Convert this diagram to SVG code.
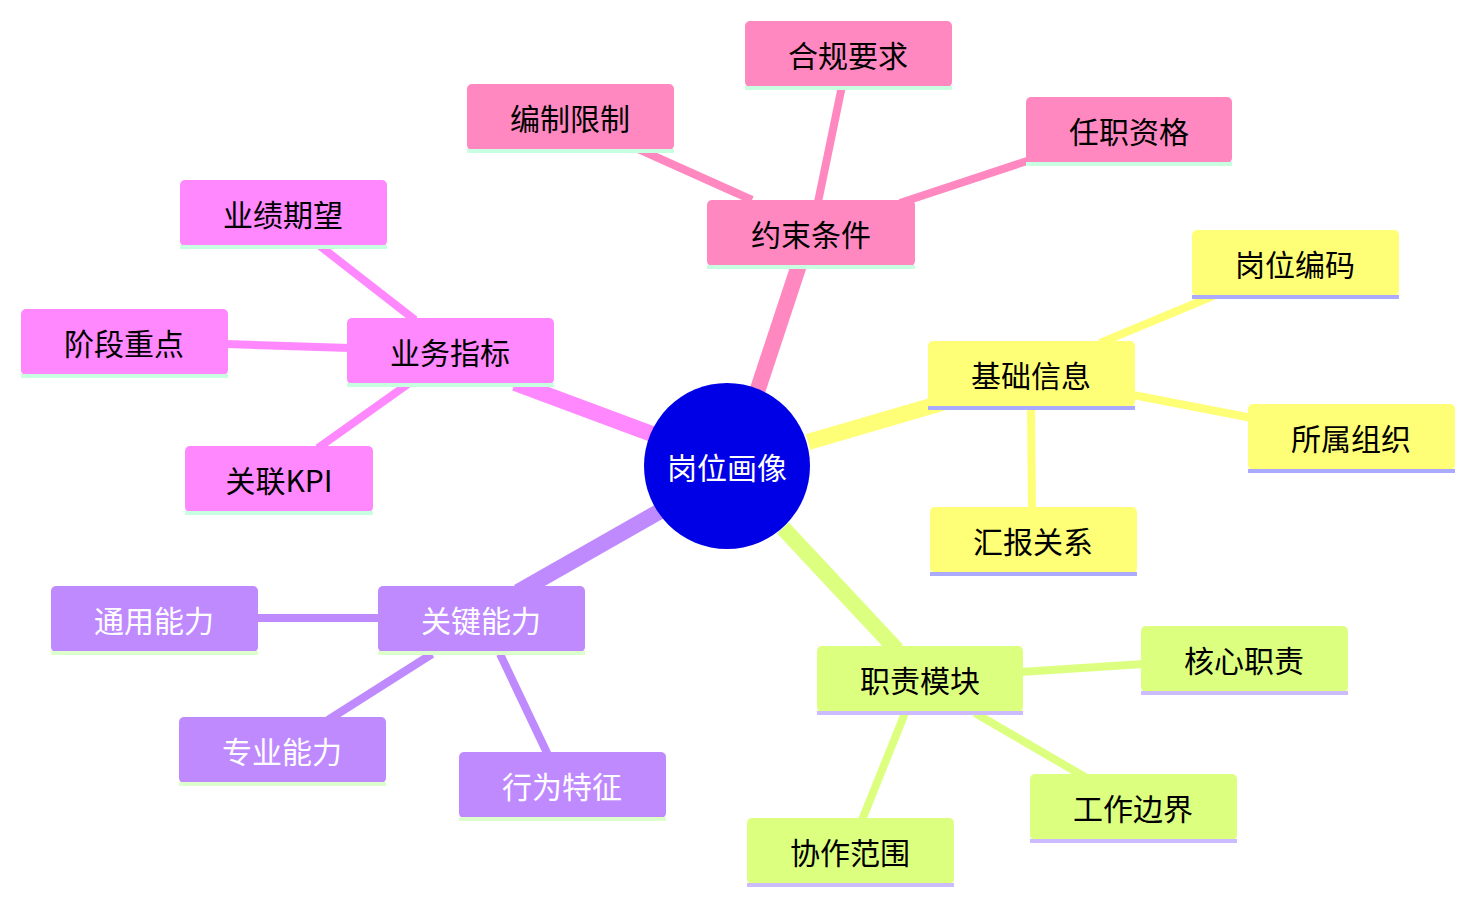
<svg xmlns="http://www.w3.org/2000/svg" width="1475" height="905" viewBox="0 0 1475 905">
<style>
text{font-family:"Noto Sans CJK SC","Liberation Sans",sans-serif;font-size:30px;text-anchor:middle;dominant-baseline:central;fill:#000}
.w{fill:#fff}
.e{fill:none;stroke-linecap:butt}
.m{stroke-width:16}
.c{stroke-width:8}
.pk{fill:#ff88c0}.pks{stroke:#ff88c0}
.mg{fill:#ff88ff}.mgs{stroke:#ff88ff}
.yl{fill:#ffff77}.yls{stroke:#ffff77}
.gr{fill:#ddff80}.grs{stroke:#ddff80}
.pu{fill:#c08aff}.pus{stroke:#c08aff}
.u1{fill:#c8ffe0}.u2{fill:#aaaaff}.u3{fill:#ccbbff}.u4{fill:#ddffcc}
</style>
<g id="connectors">
<line class="e m pks" x1="757" y1="392" x2="800" y2="262"/>
<line class="e m mgs" x1="652" y1="434" x2="515" y2="383"/>
<line class="e m yls" x1="808" y1="442" x2="945" y2="402"/>
<line class="e m grs" x1="783" y1="528" x2="897" y2="650"/>
<line class="e m pus" x1="662" y1="510" x2="518" y2="592"/>
<line class="e c pks" x1="752" y1="200" x2="636" y2="148"/>
<line class="e c pks" x1="818" y1="202" x2="842" y2="86"/>
<line class="e c pks" x1="900" y1="203" x2="1030" y2="160"/>
<line class="e c mgs" x1="415" y1="320" x2="320" y2="246"/>
<line class="e c mgs" x1="350" y1="348" x2="226" y2="344"/>
<line class="e c mgs" x1="408" y1="384" x2="318" y2="448"/>
<line class="e c yls" x1="1100" y1="343" x2="1218" y2="294"/>
<line class="e c yls" x1="1133" y1="395" x2="1252" y2="418"/>
<line class="e c yls" x1="1031" y1="407" x2="1032" y2="510"/>
<line class="e c grs" x1="1021" y1="672" x2="1143" y2="664"/>
<line class="e c grs" x1="975" y1="713" x2="1085" y2="777"/>
<line class="e c grs" x1="905" y1="713" x2="862" y2="820"/>
<line class="e c pus" x1="380" y1="618" x2="256" y2="618"/>
<line class="e c pus" x1="432" y1="654" x2="328" y2="720"/>
<line class="e c pus" x1="500" y1="654" x2="548" y2="755"/>
</g>
<g id="root"><circle cx="727" cy="466" r="83" fill="#0000e6"/><text class="w" x="727" y="466">岗位画像</text></g>
<g id="n1"><rect class="pk" x="707" y="200" width="208" height="66" rx="5"/><rect class="u1" x="707" y="265" width="208" height="4"/><text x="811" y="233">约束条件</text></g>
<g id="n1a"><rect class="pk" x="467" y="84" width="207" height="66" rx="5"/><rect class="u1" x="467" y="149" width="207" height="4"/><text x="570" y="117">编制限制</text></g>
<g id="n1b"><rect class="pk" x="745" y="21" width="207" height="66" rx="5"/><rect class="u1" x="745" y="86" width="207" height="4"/><text x="848" y="54">合规要求</text></g>
<g id="n1c"><rect class="pk" x="1026" y="97" width="206" height="66" rx="5"/><rect class="u1" x="1026" y="162" width="206" height="4"/><text x="1129" y="130">任职资格</text></g>
<g id="n2"><rect class="mg" x="347" y="318" width="207" height="66" rx="5"/><rect class="u1" x="347" y="383" width="207" height="4"/><text x="450" y="351">业务指标</text></g>
<g id="n2a"><rect class="mg" x="180" y="180" width="207" height="66" rx="5"/><rect class="u1" x="180" y="245" width="207" height="4"/><text x="283" y="213">业绩期望</text></g>
<g id="n2b"><rect class="mg" x="21" y="309" width="207" height="66" rx="5"/><rect class="u1" x="21" y="374" width="207" height="4"/><text x="124" y="342">阶段重点</text></g>
<g id="n2c"><rect class="mg" x="185" y="446" width="188" height="66" rx="5"/><rect class="u1" x="185" y="511" width="188" height="4"/><text x="279" y="479">关联KPI</text></g>
<g id="n3"><rect class="yl" x="928" y="341" width="207" height="66" rx="5"/><rect class="u2" x="928" y="406" width="207" height="4"/><text x="1031" y="374">基础信息</text></g>
<g id="n3a"><rect class="yl" x="1192" y="230" width="207" height="66" rx="5"/><rect class="u2" x="1192" y="295" width="207" height="4"/><text x="1295" y="263">岗位编码</text></g>
<g id="n3b"><rect class="yl" x="1248" y="404" width="207" height="66" rx="5"/><rect class="u2" x="1248" y="469" width="207" height="4"/><text x="1351" y="437">所属组织</text></g>
<g id="n3c"><rect class="yl" x="930" y="507" width="207" height="66" rx="5"/><rect class="u2" x="930" y="572" width="207" height="4"/><text x="1033" y="540">汇报关系</text></g>
<g id="n4"><rect class="gr" x="817" y="646" width="206" height="66" rx="5"/><rect class="u3" x="817" y="711" width="206" height="4"/><text x="920" y="679">职责模块</text></g>
<g id="n4a"><rect class="gr" x="1141" y="626" width="207" height="66" rx="5"/><rect class="u3" x="1141" y="691" width="207" height="4"/><text x="1244" y="659">核心职责</text></g>
<g id="n4b"><rect class="gr" x="1030" y="774" width="207" height="66" rx="5"/><rect class="u3" x="1030" y="839" width="207" height="4"/><text x="1133" y="807">工作边界</text></g>
<g id="n4c"><rect class="gr" x="747" y="818" width="207" height="66" rx="5"/><rect class="u3" x="747" y="883" width="207" height="4"/><text x="850" y="851">协作范围</text></g>
<g id="n5"><rect class="pu" x="378" y="586" width="207" height="66" rx="5"/><rect class="u4" x="378" y="651" width="207" height="4"/><text class="w" x="481" y="619">关键能力</text></g>
<g id="n5a"><rect class="pu" x="51" y="586" width="207" height="66" rx="5"/><rect class="u4" x="51" y="651" width="207" height="4"/><text class="w" x="154" y="619">通用能力</text></g>
<g id="n5b"><rect class="pu" x="179" y="717" width="207" height="66" rx="5"/><rect class="u4" x="179" y="782" width="207" height="4"/><text class="w" x="282" y="750">专业能力</text></g>
<g id="n5c"><rect class="pu" x="459" y="752" width="207" height="66" rx="5"/><rect class="u4" x="459" y="817" width="207" height="4"/><text class="w" x="562" y="785">行为特征</text></g>
</svg>
